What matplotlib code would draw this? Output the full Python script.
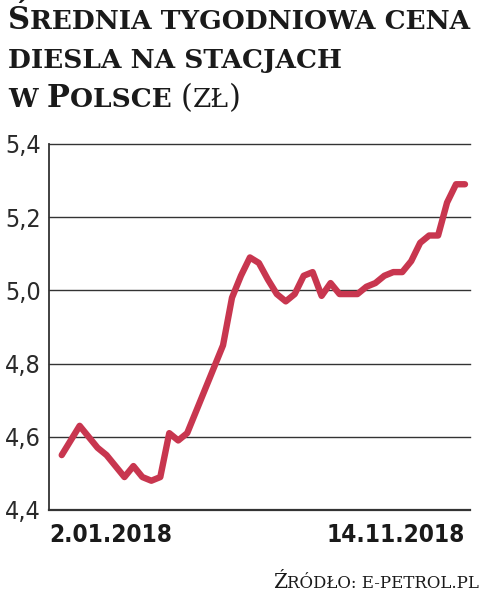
import matplotlib
matplotlib.use("Agg")
import matplotlib.pyplot as plt
import numpy as np

# Weekly average diesel price (zł), 2.01.2018 - 14.11.2018
weeks = np.arange(46)
prices = [
    4.55, 4.59, 4.63, 4.60, 4.57, 4.55, 4.52, 4.49, 4.52, 4.49,
    4.48, 4.49, 4.61, 4.59, 4.61, 4.67, 4.73, 4.79, 4.85, 4.98,
    5.04, 5.09, 5.075, 5.03, 4.99, 4.97, 4.99, 5.04, 5.05, 4.985,
    5.02, 4.99, 4.99, 4.99, 5.01, 5.02, 5.04, 5.05, 5.05, 5.08,
    5.13, 5.15, 5.15, 5.24, 5.29, 5.29,
]
y_ticks = [4.4, 4.6, 4.8, 5.0, 5.2, 5.4]
y_ticklabels = ["4,4", "4,6", "4,8", "5,0", "5,2", "5,4"]
date_first = "2.01.2018"
date_last = "14.11.2018"

LINE_COLOR = "#C8364F"
TEXT_COLOR = "#1A1A1A"
GRID_COLOR = "#333333"
SERIF = "DejaVu Serif"
SANS = "DejaVu Sans"

W, H = 483, 593
fig = plt.figure(figsize=(W / 100, H / 100), dpi=100)
fig.patch.set_facecolor("white")
renderer = fig.canvas.get_renderer()


def draw_parts(x, y, parts, align="left"):
    """Draw a run of text pieces on one baseline (fake small caps)."""
    texts = []
    for s, size, weight in parts:
        t = fig.text(0, y, s, fontsize=size, fontweight=weight, family=SERIF,
                     color=TEXT_COLOR, va="baseline", ha="left")
        texts.append(t)
    widths = [t.get_window_extent(renderer).width / W for t in texts]
    if align == "right":
        x = x - sum(widths)
    for t, w in zip(texts, widths):
        t.set_x(x)
        x += w


BIG, SMALL = 22, 19
draw_parts(8 / W, 1 - 29 / H, [("Ś", BIG, "bold"), ("REDNIA TYGODNIOWA CENA", SMALL, "bold")])
draw_parts(8 / W, 1 - 68 / H, [("DIESLA NA STACJACH", SMALL, "bold")])
draw_parts(8 / W, 1 - 107 / H, [("W ", SMALL, "bold"), ("P", BIG, "bold"), ("OLSCE ", SMALL, "bold"),
                                ("(", BIG, "normal"), ("ZŁ", SMALL, "normal"), (")", BIG, "normal")])
draw_parts(479 / W, 1 - 588 / H, [("Ź", 14.5, "normal"), ("RÓDŁO: E-PETROL.PL", 12, "normal")],
           align="right")

ax = fig.add_axes([49 / W, 1 - 510 / H, 421 / W, 366 / H])
ax.plot(weeks, prices, color=LINE_COLOR, linewidth=4.6, solid_capstyle="round",
        solid_joinstyle="round", zorder=3)
ax.set_xlim(-1.42, 45.56)
ax.set_ylim(4.4, 5.4)

for v in y_ticks[1:]:
    ax.axhline(v, color=GRID_COLOR, linewidth=1.0, zorder=1, clip_on=False)

for side in ["top", "right"]:
    ax.spines[side].set_visible(False)
ax.spines["left"].set_color(GRID_COLOR)
ax.spines["bottom"].set_color(GRID_COLOR)
ax.spines["left"].set_linewidth(1.3)
ax.spines["bottom"].set_linewidth(1.6)

ax.set_yticks(y_ticks)
ax.set_yticklabels(y_ticklabels, family=SANS, fontstretch="condensed", fontsize=18,
                   color="#2A2A2A")
ax.tick_params(axis="y", length=0, pad=6)
ax.set_xticks([])

trans = ax.get_xaxis_transform()
ax.text(ax.get_xlim()[0], -0.035, date_first, transform=trans, ha="left", va="top",
        family=SANS, fontstretch="condensed", fontweight="bold", fontsize=17.5, color=TEXT_COLOR)
ax.text(weeks[-1], -0.035, date_last, transform=trans, ha="right", va="top",
        family=SANS, fontstretch="condensed", fontweight="bold", fontsize=17.5, color=TEXT_COLOR)

fig.savefig("out.png", dpi=100, facecolor="white")
